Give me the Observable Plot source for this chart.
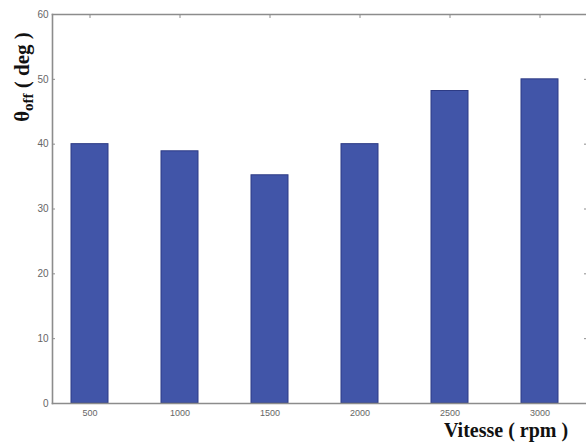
<!DOCTYPE html>
<html>
<head>
<meta charset="utf-8">
<script src="https://cdn.jsdelivr.net/npm/d3@7"></script>
<script src="https://cdn.jsdelivr.net/npm/@observablehq/plot@0.6"></script>
<style>
  html, body { margin: 0; padding: 0; background: #fff; }
  #chart svg { display: block; }
  .axis-title { font-family: "Liberation Serif", "DejaVu Serif", serif; font-weight: bold; fill: #111; }
</style>
</head>
<body>
<div id="chart"></div>
<script>
// Speed categories (rpm) and the turn-off angle measured at each speed (deg)
const speeds = ["500", "1000", "1500", "2000", "2500", "3000"];
const thetaOff = [40, 38.9, 35.2, 40, 48.2, 50];
const yTicks = [0, 10, 20, 30, 40, 50, 60];

const data = speeds.map((s, i) => ({speed: s, theta: thetaOff[i]}));

const W = 586, H = 442;
const axisColor = "#8c8c8c";
const tickTextColor = "#666";

const plot = Plot.plot({
  width: W,
  height: H,
  marginLeft: 52,
  marginRight: 0,
  marginTop: 14,
  marginBottom: 39,
  style: {fontFamily: "Liberation Sans, Arial, sans-serif", fontSize: "9px", background: "#fff"},
  x: {domain: speeds, type: "band", paddingInner: 0.592, paddingOuter: 0.243, align: 0.41, label: null},
  y: {domain: [0, 60], label: null},
  marks: [
    Plot.barY(data, {x: "speed", y: "theta", fill: "#4155a8", stroke: "#2d3b85", strokeWidth: 1}),
    // box lines
    Plot.frame({anchor: "left", stroke: axisColor, strokeWidth: 1.6}),
    Plot.frame({anchor: "top", stroke: axisColor, strokeWidth: 1.6}),
    Plot.frame({anchor: "bottom", stroke: axisColor, strokeWidth: 1.6}),
    // tick labels
    Plot.axisY({ticks: yTicks, tickSize: 0, tickPadding: 4, fill: tickTextColor, fontSize: 10}),
    Plot.axisX({tickSize: 0, tickPadding: 6, fill: tickTextColor, fontSize: 9}),
    // inward tick marks
    Plot.axisY({ticks: yTicks, tickSize: -3, tickFormat: () => "", stroke: axisColor}),
    Plot.axisY({anchor: "right", ticks: yTicks, tickSize: -3, tickFormat: () => "", stroke: axisColor}),
    Plot.axisX({anchor: "top", tickSize: -3, tickFormat: () => "", stroke: axisColor})
  ]
});

document.getElementById("chart").appendChild(plot);

const svg = d3.select(plot);

// x axis title
svg.append("text")
  .attr("class", "axis-title")
  .attr("x", 506)
  .attr("y", 437)
  .attr("text-anchor", "middle")
  .style("font-size", "20px")
  .text("Vitesse ( rpm )");

// y axis title with subscript
const yt = svg.append("text")
  .attr("class", "axis-title")
  .attr("transform", "translate(29,77) rotate(-90)")
  .attr("text-anchor", "middle")
  .style("font-size", "21px");
yt.append("tspan").text("θ");
yt.append("tspan").attr("dy", 4).style("font-size", "15px").text("off");
yt.append("tspan").attr("dy", -4).text(" ( deg )");
</script>
</body>
</html>
